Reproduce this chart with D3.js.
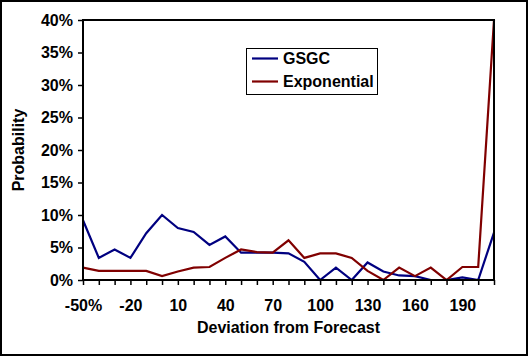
<!DOCTYPE html>
<html>
<head>
<meta charset="utf-8">
<script src="https://cdn.jsdelivr.net/npm/d3@7"></script>
<style>
  html, body { margin: 0; padding: 0; background: #fff; }
  svg { display: block; }
  text { font-family: "Liberation Sans", Arial, sans-serif; font-weight: bold; fill: #000; }
</style>
</head>
<body>
<svg id="chart" width="529" height="357"></svg>
<script>
// ---- data ----
const categories = [-50,-40,-30,-20,-10,0,10,20,30,40,50,60,70,80,90,100,110,120,130,140,150,160,170,180,190,200,210];
const xTickLabels = ["-50%","-20","10","40","70","100","130","160","190"];
const xTickValues = [-50,-20,10,40,70,100,130,160,190];
const gsgc = [9.2,3.4,4.7,3.4,7.2,10.0,8.0,7.4,5.4,6.7,4.2,4.2,4.2,4.1,2.8,0,1.9,0,2.7,1.3,0.7,0.6,0,0,0.4,0,7.3];
const exponential = [1.9,1.4,1.4,1.4,1.4,0.6,1.3,1.9,2.0,3.4,4.7,4.3,4.2,6.1,3.4,4.1,4.1,3.4,1.4,0,1.9,0.6,1.9,0,2.0,2.0,40];
const yTicks = [0,5,10,15,20,25,30,35,40];
const seriesNames = ["GSGC","Exponential"];
const seriesColors = ["#000080","#800000"];

// ---- layout ----
const svg = d3.select("#chart");
const L = 83, R = 494, T = 20, B = 280;

const x = d3.scalePoint().domain(categories).range([L, R]);
const y = d3.scaleLinear().domain([0, 40]).range([B, T]);

// outer border
svg.append("rect").attr("x", 1).attr("y", 1).attr("width", 526).attr("height", 354)
  .attr("fill", "#fff").attr("stroke", "#000").attr("stroke-width", 2);

// axes
const xAxis = d3.axisBottom(x)
  .tickSize(5).tickPadding(15)
  .tickFormat(d => { const k = xTickValues.indexOf(d); return k >= 0 ? xTickLabels[k] : ""; });
const gx = svg.append("g").attr("transform", `translate(0,${B})`).call(xAxis);
gx.select(".domain").remove();
gx.selectAll(".tick line").attr("stroke", "#000").attr("stroke-width", 1.5);
gx.selectAll("text").attr("font-size", 16).attr("font-family", "Liberation Sans, Arial, sans-serif").attr("font-weight", "bold").attr("fill", "#000");

const yAxis = d3.axisLeft(y).tickValues(yTicks).tickSize(5).tickPadding(5).tickFormat(d => d + "%");
const gy = svg.append("g").attr("transform", `translate(${L},0)`).call(yAxis);
gy.select(".domain").remove();
gy.selectAll(".tick line").attr("stroke", "#000").attr("stroke-width", 1.5);
gy.selectAll("text").attr("font-size", 16).attr("font-family", "Liberation Sans, Arial, sans-serif").attr("font-weight", "bold").attr("fill", "#000");

// series lines
const line = d3.line().x((d, i) => x(categories[i])).y(d => y(d));
[gsgc, exponential].forEach((s, k) => {
  svg.append("path").datum(s).attr("d", line)
    .attr("fill", "none").attr("stroke", seriesColors[k]).attr("stroke-width", 2.2)
    .attr("stroke-linejoin", "miter");
});

// plot frame
svg.append("rect").attr("x", L).attr("y", T).attr("width", R - L).attr("height", B - T)
  .attr("fill", "none").attr("stroke", "#000").attr("stroke-width", 2);

// axis titles
svg.append("text").attr("x", (L + R) / 2).attr("y", 333).attr("text-anchor", "middle")
  .attr("font-size", 16).text("Deviation from Forecast");
svg.append("text").attr("transform", `translate(24,${(T + B) / 2}) rotate(-90)`)
  .attr("text-anchor", "middle").attr("font-size", 16).text("Probability");

// legend
const lg = svg.append("g");
lg.append("rect").attr("x", 246.5).attr("y", 48.5).attr("width", 131).attr("height", 46)
  .attr("fill", "#fff").attr("stroke", "#000").attr("stroke-width", 1);
seriesNames.forEach((n, k) => {
  const yy = 58.5 + k * 23;
  lg.append("line").attr("x1", 252).attr("x2", 278).attr("y1", yy).attr("y2", yy)
    .attr("stroke", seriesColors[k]).attr("stroke-width", 2.2);
  lg.append("text").attr("x", 283).attr("y", yy).attr("dy", "0.36em")
    .attr("font-size", 16).text(n);
});
</script>
</body>
</html>
